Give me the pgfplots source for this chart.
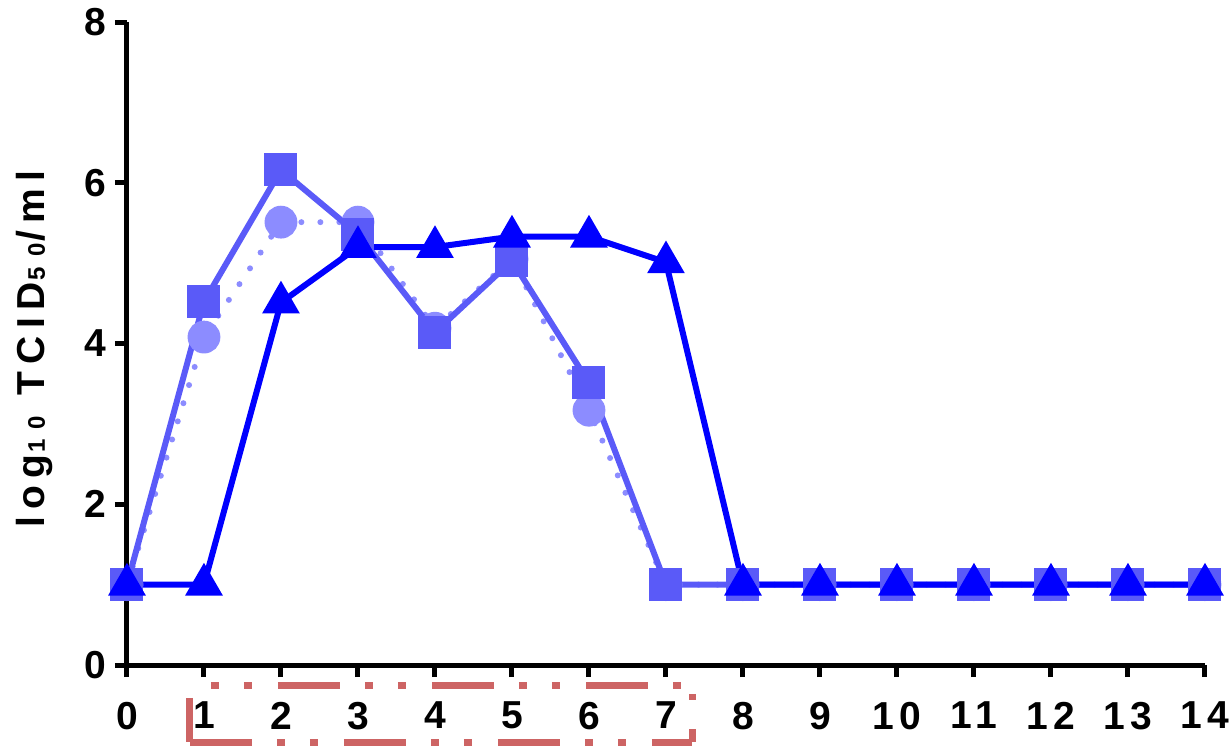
\documentclass[border=0pt]{standalone}
\usepackage{fontspec}
\setmainfont{Liberation Sans}
\newfontfamily\tickfont{Liberation Sans Bold}[LetterSpace=15]
\newfontfamily\labfont{Liberation Sans Bold}[LetterSpace=19]
\newcommand{\subd}[2]{{\fontsize{12}{12}\selectfont\hspace{1pt}#1\hspace{5pt}#2}}
\usepackage{pgfplots}
\pgfplotsset{compat=1.18}
\definecolor{cA}{HTML}{8C8CFF}
\definecolor{cB}{HTML}{5A5AF8}
\definecolor{cC}{HTML}{0000FF}
\definecolor{boxred}{HTML}{CD6464}
\begin{document}
\begin{tikzpicture}
\begin{axis}[
  scale only axis, width=539pt, height=321.5pt,
  xmin=0, xmax=14, ymin=0, ymax=8,
  axis lines*=left,
  axis line style={line width=2.5pt, black},
  xtick={0,...,14}, ytick={0,2,4,6,8},
  tick style={line width=2.5pt, black},
  tick align=outside, major tick length=6pt,
  tick label style={font=\fontsize{19.5}{20}\tickfont},
  /pgf/number format/assume math mode=true,
  xticklabel style={yshift=-9pt},
  yticklabel style={xshift=-1pt},
  clip=false,
  ylabel={\fontsize{19.5}{20}\labfont log\subd{1}{0}\hspace{1pt} TCID\subd{5}{0}\hspace{1pt}/ml},
  ylabel style={at={(axis description cs:-0.0761,0.4914)}, anchor=base},
]
\coordinate (bl) at (axis cs:-1.649,-1.0078);
\coordinate (tr) at (axis cs:14.312,8.274);
\addplot[cA, line width=3pt, line cap=round, dash pattern=on 0pt off 9.5pt,
  mark=*, mark size=6.7pt, mark options={solid, draw=none, fill=cA}]
  coordinates {(0,1)(1,4.08)(2,5.51)(3,5.51)(4,4.19)(5,5.05)(6,3.17)(7,1)(8,1)(9,1)(10,1)(11,1)(12,1)(13,1)(14,1)};
\addplot[cB, line width=3pt,
  mark=square*, mark size=6.75pt, mark options={draw=none, fill=cB}]
  coordinates {(0,1)(1,4.52)(2,6.16)(3,5.36)(4,4.14)(5,5.03)(6,3.51)(7,1)(8,1)(9,1)(10,1)(11,1)(12,1)(13,1)(14,1)};
\addplot[cC, line width=3pt,
  mark=triangle*, mark size=7.9pt, mark options={draw=none, fill=cC}]
  coordinates {(0,1)(1,1)(2,4.51)(3,5.2)(4,5.2)(5,5.33)(6,5.33)(7,5.01)(8,1)(9,1)(10,1)(11,1)(12,1)(13,1)(14,1)};
% annotation box
\draw[boxred, line width=3.5pt, dash pattern=on 31pt off 12.5pt on 4pt off 12.5pt on 4pt off 13pt, dash phase=33pt]
  (axis cs:0.818,-0.25) -- (axis cs:7.338,-0.25);
\draw[boxred, line width=3.5pt, dash pattern=on 31pt off 12.5pt on 4pt off 12.5pt on 4pt off 13pt]
  (axis cs:0.818,-0.958) -- (axis cs:7.338,-0.958);
\draw[boxred, line width=3.5pt] (axis cs:0.818,-0.41) -- (axis cs:0.818,-0.958);
\draw[boxred, line width=3.5pt] (axis cs:7.338,-0.80) -- (axis cs:7.338,-0.958);
\draw[boxred, line width=3.5pt] (axis cs:7.338,-0.36) -- (axis cs:7.338,-0.43);
\end{axis}
\pgfresetboundingbox
\path[use as bounding box] (bl) rectangle (tr);
\end{tikzpicture}
\end{document}
